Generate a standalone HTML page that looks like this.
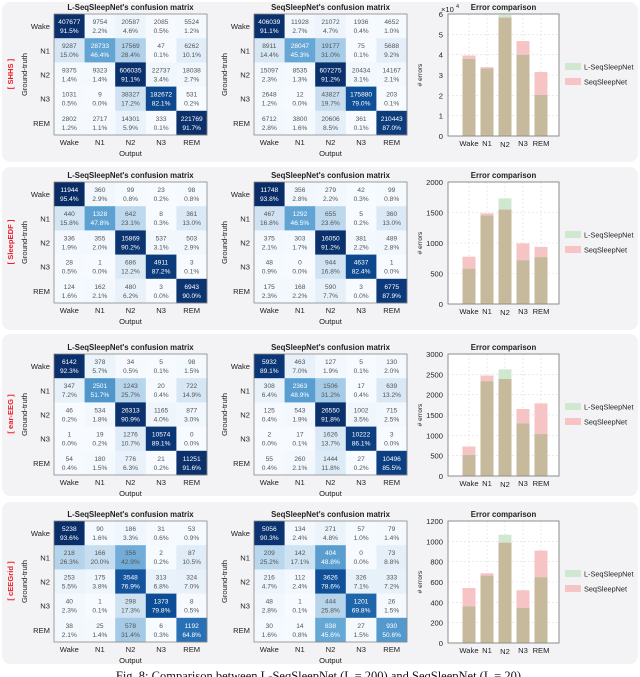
<!DOCTYPE html>
<html><head><meta charset="utf-8"><style>
html,body{margin:0;padding:0;background:#fff;width:640px;height:677px;overflow:hidden}
svg{display:block;font-family:"Liberation Sans",sans-serif}
</style></head><body>
<svg id="fig" width="640" height="677" viewBox="0 0 640 677"></svg>
<script>
const stages = ["Wake","N1","N2","N3","REM"];
const datasets = ["SHHS","SleepEDF","ear-EEG","cEEGrid"];
const lseqSHHS = [[407677,9754,20587,2085,5524],[9287,28733,17569,47,6262],[9375,9323,606035,22737,18038],[1031,9,38327,182672,531],[2802,2717,14301,333,221769]];
const seqSHHS = [[406039,11928,21072,1936,4652],[8911,28047,19177,75,5688],[15097,8535,607275,20434,14167],[2648,12,43827,175880,203],[6712,3800,20606,361,210443]];
const lseqEDF = [[11944,360,99,23,98],[440,1328,642,8,361],[336,355,15869,537,503],[28,1,686,4911,3],[124,162,480,3,6943]];
const seqEDF = [[11748,356,279,42,99],[467,1292,655,5,360],[375,303,16050,381,489],[48,0,944,4637,1],[175,168,590,3,6775]];
const lseqEar = [[6142,378,34,5,98],[347,2501,1243,20,722],[46,534,26313,1165,877],[1,19,1276,10574,0],[54,180,776,21,11251]];
const seqEar = [[5932,463,127,5,130],[308,2363,1506,17,639],[125,543,26550,1002,715],[2,17,1626,10222,3],[55,260,1444,27,10496]];
const lseqCee = [[5238,90,186,31,53],[218,166,356,2,87],[253,175,3548,313,324],[40,1,298,1373,8],[38,25,578,6,1192]];
const seqCee = [[5056,134,271,57,79],[209,142,404,0,73],[216,112,3626,326,333],[48,1,444,1201,26],[30,14,838,27,930]];
const yMaxes = [60000,2000,3000,1200];
const yStepList = [10000,500,500,200];

const NS="http://www.w3.org/2000/svg";
const svg=document.getElementById('fig');
function mk(tag,attrs,parent,text){const e=document.createElementNS(NS,tag);for(const k in attrs)e.setAttribute(k,attrs[k]);if(text!==undefined)e.textContent=text;(parent||svg).appendChild(e);return e;}
const stops=[[0,[247,251,255]],[0.15,[214,230,244]],[0.3,[170,206,232]],[0.47,[95,163,211]],[0.65,[40,112,180]],[0.8,[13,77,150]],[0.92,[11,47,106]],[1,[8,40,95]]];
function blue(p){for(let i=1;i<stops.length;i++){if(p<=stops[i][0]){const a=stops[i-1],b=stops[i];const t=(p-a[0])/(b[0]-a[0]);const c=a[1].map((v,j)=>Math.round(v+(b[1][j]-v)*t));return `rgb(${c})`;}}return 'rgb(8,40,95)';}

const panels=[{y:2,h:160,top:14},{y:167,h:163,top:182},{y:334,h:162,top:354},{y:502,h:162,top:521}];
const mats=[[lseqSHHS,seqSHHS],[lseqEDF,seqEDF],[lseqEar,seqEar],[lseqCee,seqCee]];
const titles=["L-SeqSleepNet's confusion matrix","SeqSleepNet's confusion matrix"];

function drawMatrix(g,M,x0,top,title){
  const W=153,H=121,cw=W/5,ch=H/5;
  const t=mk('text',{x:x0+W/2,y:top-4,'text-anchor':'middle','font-size':7.8,'font-weight':'bold',fill:'#222'},g,title);
  
  
  for(let r=0;r<5;r++){
    const rs=M[r].reduce((a,b)=>a+b,0);
    for(let c=0;c<5;c++){
      const p=M[r][c]/rs;
      const cell=mk('rect',{x:x0+c*cw,y:top+r*ch,width:cw+0.3,height:ch+0.3,fill:blue(p)},g);
      
      
      const col=p>0.44?'#fff':'#555';
      mk('text',{x:x0+c*cw+cw/2,y:top+r*ch+10,'text-anchor':'middle','font-size':6.6,fill:col},g,String(M[r][c]));
      mk('text',{x:x0+c*cw+cw/2,y:top+r*ch+19,'text-anchor':'middle','font-size':6.6,fill:col},g,(p*100).toFixed(1)+'%');
    }
    const rl=mk('text',{x:x0-4,y:top+r*ch+ch/2+3,'text-anchor':'end','font-size':7.6,fill:'#222'},g,stages[r]);
    
    
  }
  mk('rect',{x:x0,y:top,width:W,height:H,fill:'none',stroke:'#888','stroke-width':0.8},g);
  for(let c=0;c<5;c++){
    const cl=mk('text',{x:x0+c*cw+cw/2,y:top+H+10,'text-anchor':'middle','font-size':7.6,fill:'#222'},g,stages[c]);
    
    
  }
  const o=mk('text',{x:x0+W/2,y:top+H+21,'text-anchor':'middle','font-size':7.6,fill:'#222'},g,'Output');
  
  
  const gt=mk('text',{x:0,y:0,'text-anchor':'middle','font-size':7.6,fill:'#222',transform:`translate(${x0-27},${top+H/2}) rotate(-90)`},g,'Ground-truth');
  
  
}
function errs(M){return M.map((row,r)=>row.reduce((a,v,c)=>a+(c===r?0:v),0));}

panels.forEach((P,i)=>{
  const g=mk('g',{});
  
  
  mk('rect',{x:2,y:P.y,width:636,height:P.h,rx:8,fill:'#f3f3f5'},g);
  const dl=mk('text',{x:0,y:0,'text-anchor':'middle','font-size':7.6,'font-weight':'bold',fill:'#e8202a',transform:`translate(13,${P.top+60}) rotate(-90)`},g,'[ '+datasets[i]+' ]');
  
  
  drawMatrix(g,mats[i][0],54,P.top,titles[0]);
  drawMatrix(g,mats[i][1],254,P.top,titles[1]);
  const ax0=448,ax1=559,ay0=P.top,ay1=P.top+122;
  const ymax=yMaxes[i],step=yStepList[i];
  const ys=v=>ay1-(v/ymax)*(ay1-ay0);
  const xs=k=>469+18*k;
  mk('rect',{x:ax0,y:ay0,width:ax1-ax0,height:ay1-ay0,fill:'#fff',stroke:'#888','stroke-width':0.8},g);
  for(let v=0;v<=ymax+1e-9;v+=step){
    if(v>0&&v<ymax) mk('line',{x1:ax0,x2:ax1,y1:ys(v),y2:ys(v),stroke:'#ddd','stroke-dasharray':'2,2','stroke-width':0.6},g);
    const lab=i===0?String(v/10000):String(v);
    const tl=mk('text',{x:ax0-5,y:ys(v)+3,'text-anchor':'end','font-size':7.6,fill:'#222'},g,lab);
    
    
  }
  for(let k=0;k<5;k++) mk('line',{x1:xs(k),x2:xs(k),y1:ay0,y2:ay1,stroke:'#ddd','stroke-dasharray':'2,2','stroke-width':0.6},g);
  if(i===0){mk('text',{x:ax0-7,y:ay0-2,'font-size':7.6,fill:'#222'},g,'×10');mk('text',{x:ax0+8,y:ay0-6,'font-size':5.5,fill:'#222'},g,'4');}
  const ct=mk('text',{x:(ax0+ax1)/2,y:ay0-4,'text-anchor':'middle','font-size':7.8,'font-weight':'bold',fill:'#222'},g,'Error comparison');
  
  
  const yt=mk('text',{x:0,y:0,'text-anchor':'middle','font-size':6.6,fill:'#222',transform:`translate(${ax0-26},${(ay0+ay1)/2}) rotate(-90)`},g,'# errors');
  
  
  const eL=errs(mats[i][0]),eS=errs(mats[i][1]);
  for(let k=0;k<5;k++){
    const lo=Math.min(eL[k],eS[k]),hi=Math.max(eL[k],eS[k]);
    const ex=mk('rect',{x:xs(k)-6.5,y:ys(hi),width:13,height:ys(lo)-ys(hi),fill:eL[k]>eS[k]?'#cfe8cf':'#f6c4c4'},g);
    
    
    const b=mk('rect',{x:xs(k)-6.5,y:ys(lo),width:13,height:ay1-ys(lo),fill:'#c6b99c'},g);
    
    
    const xl=mk('text',{x:xs(k),y:ay1+10+(k===2?1:0),'text-anchor':'middle','font-size':7.6,fill:'#222'},g,stages[k]);
    
    
  }
  mk('rect',{x:ax0,y:ay0,width:ax1-ax0,height:ay1-ay0,fill:'none',stroke:'#888','stroke-width':0.8},g);
  const ly=P.top+49;
  mk('rect',{x:565,y:ly,width:16,height:7,fill:'#cfe8cf'},g);
  const l1=mk('text',{x:584,y:ly+6.5,'font-size':7.3,fill:'#222'},g,'L-SeqSleepNet');
  
  
  mk('rect',{x:565,y:ly+15,width:16,height:7,fill:'#f6c4c4'},g);
  const l2=mk('text',{x:584,y:ly+21.5,'font-size':7.3,fill:'#222'},g,'SeqSleepNet');
  
  
});
const cap=mk('text',{x:320,y:680,'text-anchor':'middle','font-size':12.5,fill:'#111','font-family':'"Liberation Serif",serif'},svg,'Fig. 8: Comparison between L-SeqSleepNet (L = 200) and SeqSleepNet (L = 20).');


</script>
</body></html>
